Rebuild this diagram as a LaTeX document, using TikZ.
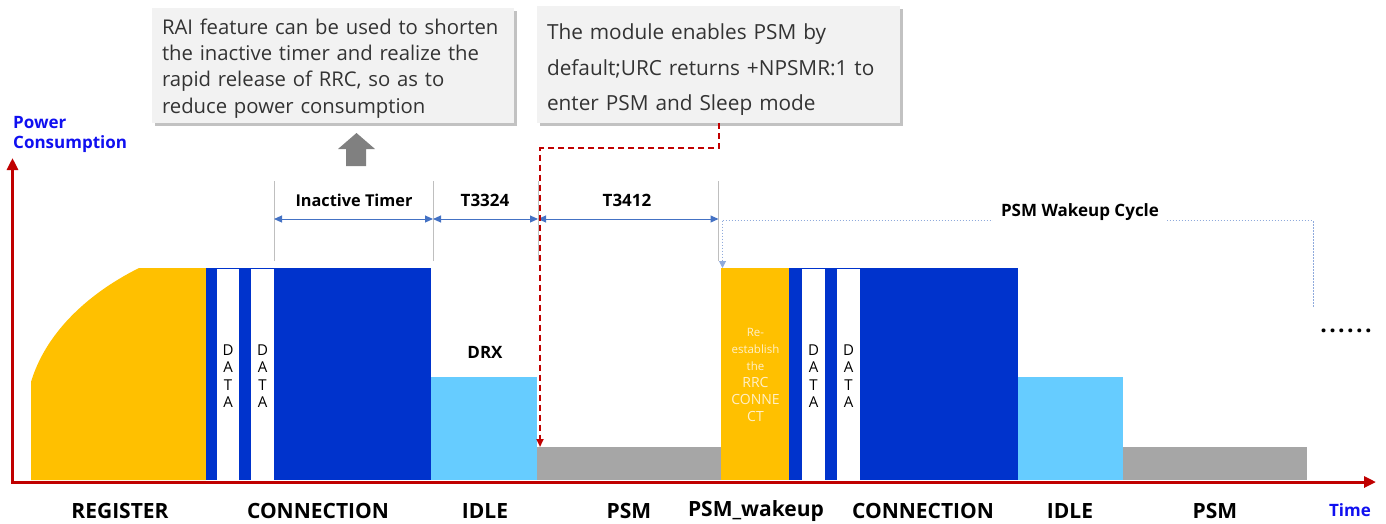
\documentclass[tikz,border=0pt]{standalone}
\usepackage{fontspec}
\setmainfont{Open Sans}
\usetikzlibrary{arrows.meta,shadows}
\definecolor{cyel}{HTML}{FFC000}
\definecolor{cblue}{HTML}{0033CC}
\definecolor{clblue}{HTML}{66CCFF}
\definecolor{cgray}{HTML}{A6A6A6}
\definecolor{cred}{HTML}{C00000}
\definecolor{tline}{HTML}{4472C4}
\definecolor{dline}{HTML}{8FAADC}
\definecolor{calfill}{HTML}{F2F2F2}
\definecolor{ctext}{HTML}{333333}
\definecolor{vline}{HTML}{BFBFBF}
\definecolor{ptext}{HTML}{1010F0}
\definecolor{retext}{HTML}{FFF0C8}
\tikzset{
  callout/.style={fill=calfill, inner sep=0pt,
    drop shadow={shadow xshift=3pt, shadow yshift=-3pt, opacity=0.4, fill=black!60}},
  callouttext/.style={text=ctext, align=left, inner sep=0pt},
  steplabel/.style={font=\fontsize{21}{24}\selectfont\bfseries, text=black, inner sep=0pt},
  timerlabel/.style={font=\fontsize{17}{20}\selectfont\bfseries, text=black, inner sep=0pt},
  datalabel/.style={font=\fontsize{15}{17.5}\selectfont, align=center, text=black, inner sep=0pt},
  tarrow/.style={tline, line width=1pt, {Triangle[length=8pt,width=7pt]}-{Triangle[length=8pt,width=7pt]}},
  tick/.style={vline, line width=0.8pt},
  wdot/.style={dline, line width=1pt, dash pattern=on 1.5pt off 1.5pt},
}
\newcommand{\resm}{\fontsize{11.5}{17}\selectfont}
\newcommand{\relg}{\fontsize{14}{17}\selectfont}
\begin{document}
\begin{tikzpicture}[x=1pt,y=-1pt]
\useasboundingbox (0,0) rectangle (1386,523);
% ---------- bars ----------
\fill[cyel] (31,480) -- (31,382) .. controls (45,335) and (85,295) .. (139,268) -- (206,268) -- (206,480) -- cycle;
\fill[cblue] (206,268) rectangle (431,480);
\fill[white] (217,269) rectangle (239,480);
\fill[white] (251,269) rectangle (274,480);
\fill[clblue] (431,377) rectangle (537,480);
\fill[cgray] (537,447) rectangle (721,480);
\fill[cyel] (721,268) rectangle (789,480);
\fill[cblue] (789,268) rectangle (1018,480);
\fill[white] (802,269) rectangle (825,480);
\fill[white] (837,269) rectangle (860,480);
\fill[clblue] (1018,377) rectangle (1123,480);
\fill[cgray] (1123,447) rectangle (1307,480);
% ---------- bar texts ----------
\node[datalabel] (d1) at (228,376) {D\\A\\T\\A};
\node[datalabel] (d2) at (262.5,376) {D\\A\\T\\A};
\node[datalabel] (d3) at (813.5,376) {D\\A\\T\\A};
\node[datalabel] (d4) at (848.5,376) {D\\A\\T\\A};
\node[align=center, text=retext, inner sep=0pt, font=\fontsize{12}{17}\selectfont] (re) at (755.5,375)
  {\resm Re-\\\resm establish\\\resm the\\\relg RRC\\\relg CONNE\\\relg CT};
\node[timerlabel] (drx) at (485,352) {DRX};
% ---------- axes ----------
\coordinate (ytop) at (12.5,158);
\coordinate (orig) at (12.5,482);
\coordinate (xend) at (1376,482);
\draw[cred, line width=3pt, line join=miter, {Triangle[length=12pt,width=11pt]}-{Triangle[length=12pt,width=11pt]}] (ytop) -- (orig) -- (xend);
\node[font=\fontsize{17}{20}\selectfont\bfseries, text=ptext, align=left, anchor=west, inner sep=0pt] (pc) at (13,134.5) {Power\\Consumption};
\node[font=\fontsize{17}{20}\selectfont\bfseries, text=ptext, inner sep=0pt] (time) at (1350,510) {Time};
% ---------- bottom labels ----------
\node[steplabel] (l1) at (120,511) {REGISTER};
\node[steplabel] (l2) at (318,511) {CONNECTION};
\node[steplabel] (l3) at (485,511) {IDLE};
\node[steplabel] (l4) at (629,511) {PSM};
\node[steplabel] (l5) at (756,511) {PSM\_wakeup};
\node[steplabel] (l6) at (923,511) {CONNECTION};
\node[steplabel] (l7) at (1070,511) {IDLE};
\node[steplabel] (l8) at (1215,511) {PSM};
\node[font=\fontsize{23}{23}\selectfont\bfseries, inner sep=0pt] (dots) at (1346,331) {.\hspace{2.4pt}.\hspace{2.4pt}.\hspace{2.4pt}.\hspace{2.4pt}.\hspace{2.4pt}.};
% ---------- timers ----------
\coordinate (t0) at (274,219);
\coordinate (t1) at (433,219);
\coordinate (t2) at (538,219);
\coordinate (t3) at (718.5,219);
\foreach \x in {274,433,538,718.5} \draw[tick] (\x,181) -- (\x,261);
\draw[tarrow] (t0) -- (t1);
\draw[tarrow] (t1) -- (t2);
\draw[tarrow] (t2) -- (t3);
\node[timerlabel, font=\fontsize{16.3}{20}\selectfont\bfseries] (it) at (354,200) {Inactive Timer};
\node[timerlabel] (t3324) at (485,200) {T3324};
\node[timerlabel] (t3412) at (627,200) {T3412};
% ---------- PSM wakeup cycle ----------
\coordinate (w0) at (722.5,220.5);
\coordinate (w1) at (1313,220.5);
\coordinate (w2) at (1313,307);
\coordinate (wtop) at (722.5,268);
\draw[wdot] (w0) -- (w1) -- (w2);
\draw[wdot, -{Triangle[length=7pt,width=7pt]}] (w0) -- (wtop);
\node[timerlabel, fill=white, inner xsep=8pt, inner ysep=3pt] (wc) at (1080,212) {PSM Wakeup Cycle};
% ---------- callouts ----------
\node[callout, minimum width=362pt, minimum height=115pt] (c1) at (333,65.5) {};
\node[callouttext, text width=342pt, font=\fontsize{20.3}{26.2}\selectfont] (c1t) at (333,68.5)
  {RAI feature can be used to shorten\\the inactive timer and realize the\\rapid release of RRC, so as to\\reduce power consumption};
\node[callout, minimum width=363pt, minimum height=117pt] (c2) at (718.5,64.5) {};
\node[callouttext, text width=343pt, font=\fontsize{20.8}{35.5}\selectfont] (c2t) at (718.5,70)
  {The module enables PSM by\\default;URC returns +NPSMR:1 to\\enter PSM and Sleep mode};
% gray block arrow pointing to c1
\fill[black!50] (346,166) -- (346,149) -- (338,149) -- (356.5,133) -- (375,149) -- (366,149) -- (366,166) -- cycle;
% red dashed connector
\coordinate (psm) at (540,447);
\draw[cred, line width=2pt, dash pattern=on 6pt off 4pt, -{Triangle[length=8pt,width=7pt]}]
  (c2.south) -- ++(0,25) -| (psm);
\end{tikzpicture}
\end{document}
